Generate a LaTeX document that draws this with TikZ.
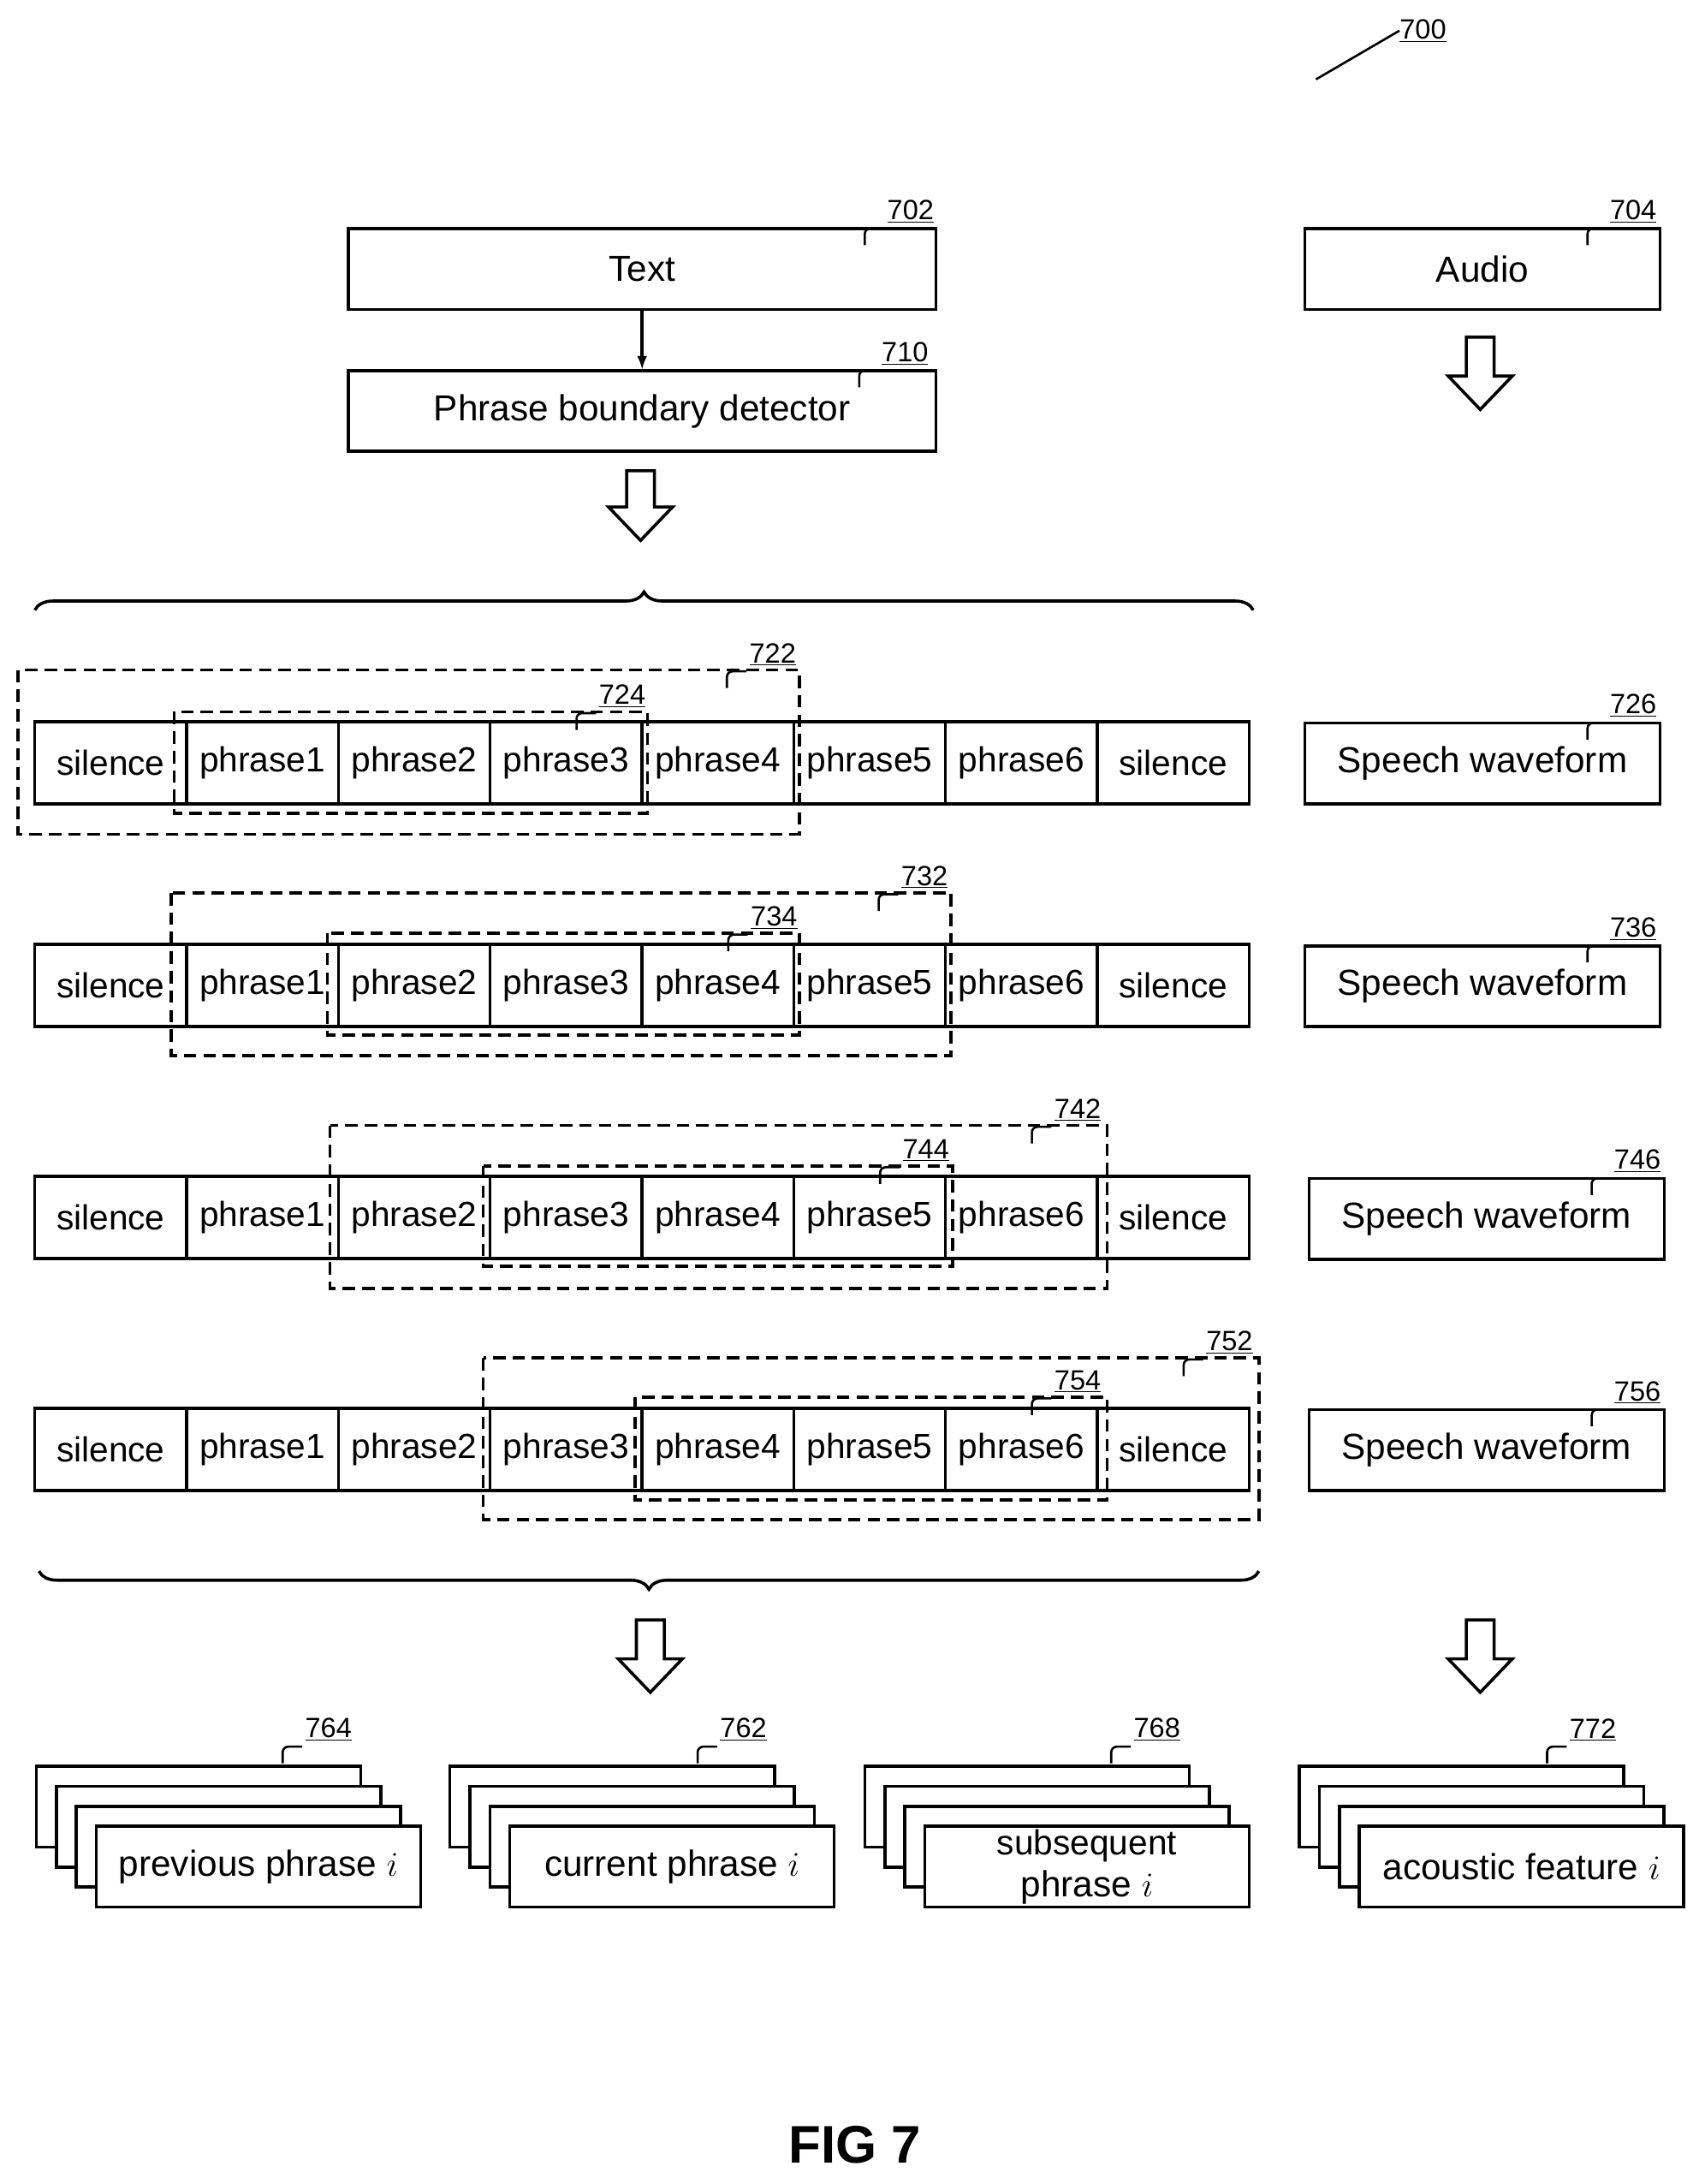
\documentclass[tikz,border=0pt]{standalone}
\usepackage{fontspec}
\setmainfont{Liberation Sans}
\usetikzlibrary{decorations.pathreplacing}
\begin{document}
\begin{tikzpicture}[x=1pt,y=-1pt,
  box/.style={draw,line width=2.2pt,fill=white,minimum width=#1,minimum height=58pt,inner sep=0pt,font=\fontsize{26}{30}\selectfont},
  cell/.style={draw,line width=2.2pt,minimum width=109pt,minimum height=59pt,inner sep=0pt,font=\fontsize{25}{30}\selectfont},
  dbox/.style={draw,dashed,line width=2.2pt,dash pattern=on 9pt off 5pt},
  lbl/.style={font=\fontsize{20}{24}\selectfont,inner sep=0pt},
  brc/.style={line width=2.2pt,decorate,decoration={brace,amplitude=13pt}},
  hollow/.style={draw,line width=2.2pt,fill=white}]
\useasboundingbox (0,0) rectangle (1224,1568);
\newcommand{\reflabel}[3]{% name, pos, text
  \node[lbl,anchor=south west] (#1) at #2 {\underline{#3}};
  \draw[line width=1.6pt,rounded corners=4pt] ([xshift=-2pt,yshift=-4pt]#1.south west) -- ++(-14,0) -- ++(0,12);}
\newcommand{\hollowarrow}[3]{% x, ytop, ybottom
  \draw[hollow] (#1-10,#2) -- (#1+10,#2) -- (#1+10,#3-24) -- (#1+23,#3-24) -- (#1,#3) -- (#1-23,#3-24) -- (#1-10,#3-24) -- cycle;}
% 700
\node[lbl,anchor=west] (l700) at (1005,22) {\underline{700}};
\draw[line width=1.6pt] (945,57) -- (l700.west);
% top boxes
\node[box=422pt,anchor=north west] (text) at (249,163) {Text};
\reflabel{l702}{(637,160)}{702}
\node[box=255pt,anchor=north west] (audio) at (936,163) {Audio};
\reflabel{l704}{(1156,160)}{704}
\node[box=422pt,anchor=north west] (pbd) at (249,265) {Phrase boundary detector};
\reflabel{l710}{(633,262)}{710}
\draw[line width=2.2pt,-latex] (text) -- (pbd);
\hollowarrow{460}{338}{388}
\hollowarrow{1063}{242}{294}
\draw[brc] (25,438) -- (900,438);
% rows
\foreach \r/\y in {1/547.5,2/707.5,3/874,4/1040.5}{
  \foreach \t [count=\c] in {silence,phrase1,phrase2,phrase3,phrase4,phrase5,phrase6,silence}{
    \node[cell] (r\r c\c) at (25+109*\c-54.5,\y) {\t};
  }
}
% dashed windows
\draw[dbox] (13,481) rectangle (574,599);
\draw[dbox] (125,511) rectangle (465,584);
\reflabel{l722}{(538,478)}{722}
\reflabel{l724}{(430,508)}{724}
\draw[dbox] (123,641) rectangle (683,758);
\draw[dbox] (235,670) rectangle (574,743);
\reflabel{l732}{(647,638)}{732}
\reflabel{l734}{(539,667)}{734}
\draw[dbox] (237,808) rectangle (795,925);
\draw[dbox] (347,837) rectangle (684,909);
\reflabel{l742}{(757,805)}{742}
\reflabel{l744}{(648,834)}{744}
\draw[dbox] (347,975) rectangle (904,1091);
\draw[dbox] (456,1003) rectangle (795,1077);
\reflabel{l752}{(866,972)}{752}
\reflabel{l754}{(757,1000)}{754}
% speech waveforms
\node[box=255pt,anchor=north west] (sw1) at (936,518) {Speech waveform};
\reflabel{l726}{(1156,515)}{726}
\node[box=255pt,anchor=north west] (sw2) at (936,678) {Speech waveform};
\reflabel{l736}{(1156,675)}{736}
\node[box=255pt,anchor=north west] (sw3) at (939,845) {Speech waveform};
\reflabel{l746}{(1159,842)}{746}
\node[box=255pt,anchor=north west] (sw4) at (939,1011) {Speech waveform};
\reflabel{l756}{(1159,1008)}{756}
% bottom brace
\draw[brc] (904,1128) -- (28,1128);
\hollowarrow{467}{1163}{1215}
\hollowarrow{1063}{1163}{1215}
% stacks
\foreach \n/\x/\t in {prev/25/{previous phrase $i$},cur/322/{current phrase $i$},sub/620/{\fontsize{25}{24}\selectfont subsequent\\phrase $i$},ac/932/{acoustic feature $i$}}{
  \node[box=233pt,anchor=north west] (\n a) at (\x,1267) {};
  \node[box=233pt,anchor=north west] (\n b) at (\x+14.3,1281.3) {};
  \node[box=233pt,anchor=north west] (\n c) at (\x+28.7,1295.7) {};
  \node[box=233pt,anchor=north west,align=center] (\n d) at (\x+43,1310) {\t};
}
\reflabel{l764}{(219,1250)}{764}
\reflabel{l762}{(517,1250)}{762}
\reflabel{l768}{(814,1250)}{768}
\reflabel{l772}{(1127,1250)}{772}
\node[font=\bfseries\fontsize{38}{44}\selectfont] (fig) at (614,1540) {FIG 7};
\end{tikzpicture}
\end{document}
